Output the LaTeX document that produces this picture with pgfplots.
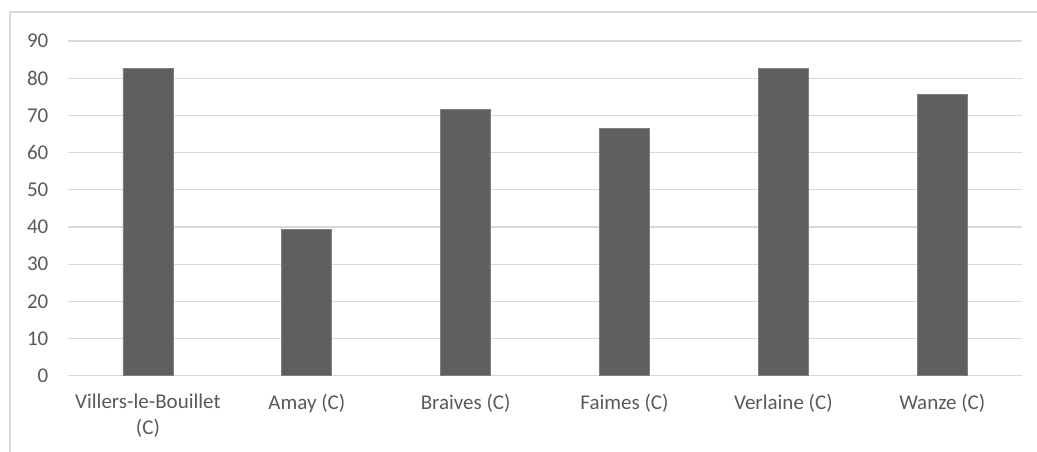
\documentclass[border=0pt]{standalone}
\usepackage{fontspec}
\setmainfont{Carlito}
\usepackage{pgfplots}
\pgfplotsset{compat=1.18}
\definecolor{barfill}{RGB}{95,95,95}
\definecolor{baredge}{RGB}{128,128,128}
\definecolor{gridc}{RGB}{217,217,217}
\definecolor{txt}{RGB}{89,89,89}
\begin{document}
\begin{tikzpicture}[x=1pt,y=1pt]
\path[use as bounding box] (0,0) rectangle (1037,452);
\draw[gridc, line width=1.2pt] (10,0) -- (10,440) -- (1037,440);
\begin{axis}[
  at={(68.5pt,76.3pt)}, anchor=south west,
  scale only axis, width=953.2pt, height=334.7pt,
  xmin=-0.5, xmax=5.5, ymin=0, ymax=90,
  ytick={0,10,...,90},
  xtick={0,1,2,3,4,5},
  xticklabels={{Villers-le-Bouillet\\(C)},{Amay (C)},{Braives (C)},{Faimes (C)},{Verlaine (C)},{Wanze (C)}},
  axis line style={draw=none},
  ymajorgrids, grid style={gridc, line width=1.2pt},
  major tick length=0pt, tick style={draw=none},
  /pgf/number format/assume math mode=true,
  ticklabel style={font=\fontsize{21}{25.6}\selectfont, text=txt},
  yticklabel style={inner sep=0pt, anchor=east, xshift=-20pt},
  xticklabel style={inner sep=0pt, anchor=north, yshift=-18pt, align=center},
  ybar, bar width=50pt,
]
\addplot[fill=barfill, draw=baredge, line width=0.75pt] coordinates {(0,82.6) (1,39.4) (2,71.5) (3,66.4) (4,82.6) (5,75.6)};
\end{axis}
\end{tikzpicture}
\end{document}
